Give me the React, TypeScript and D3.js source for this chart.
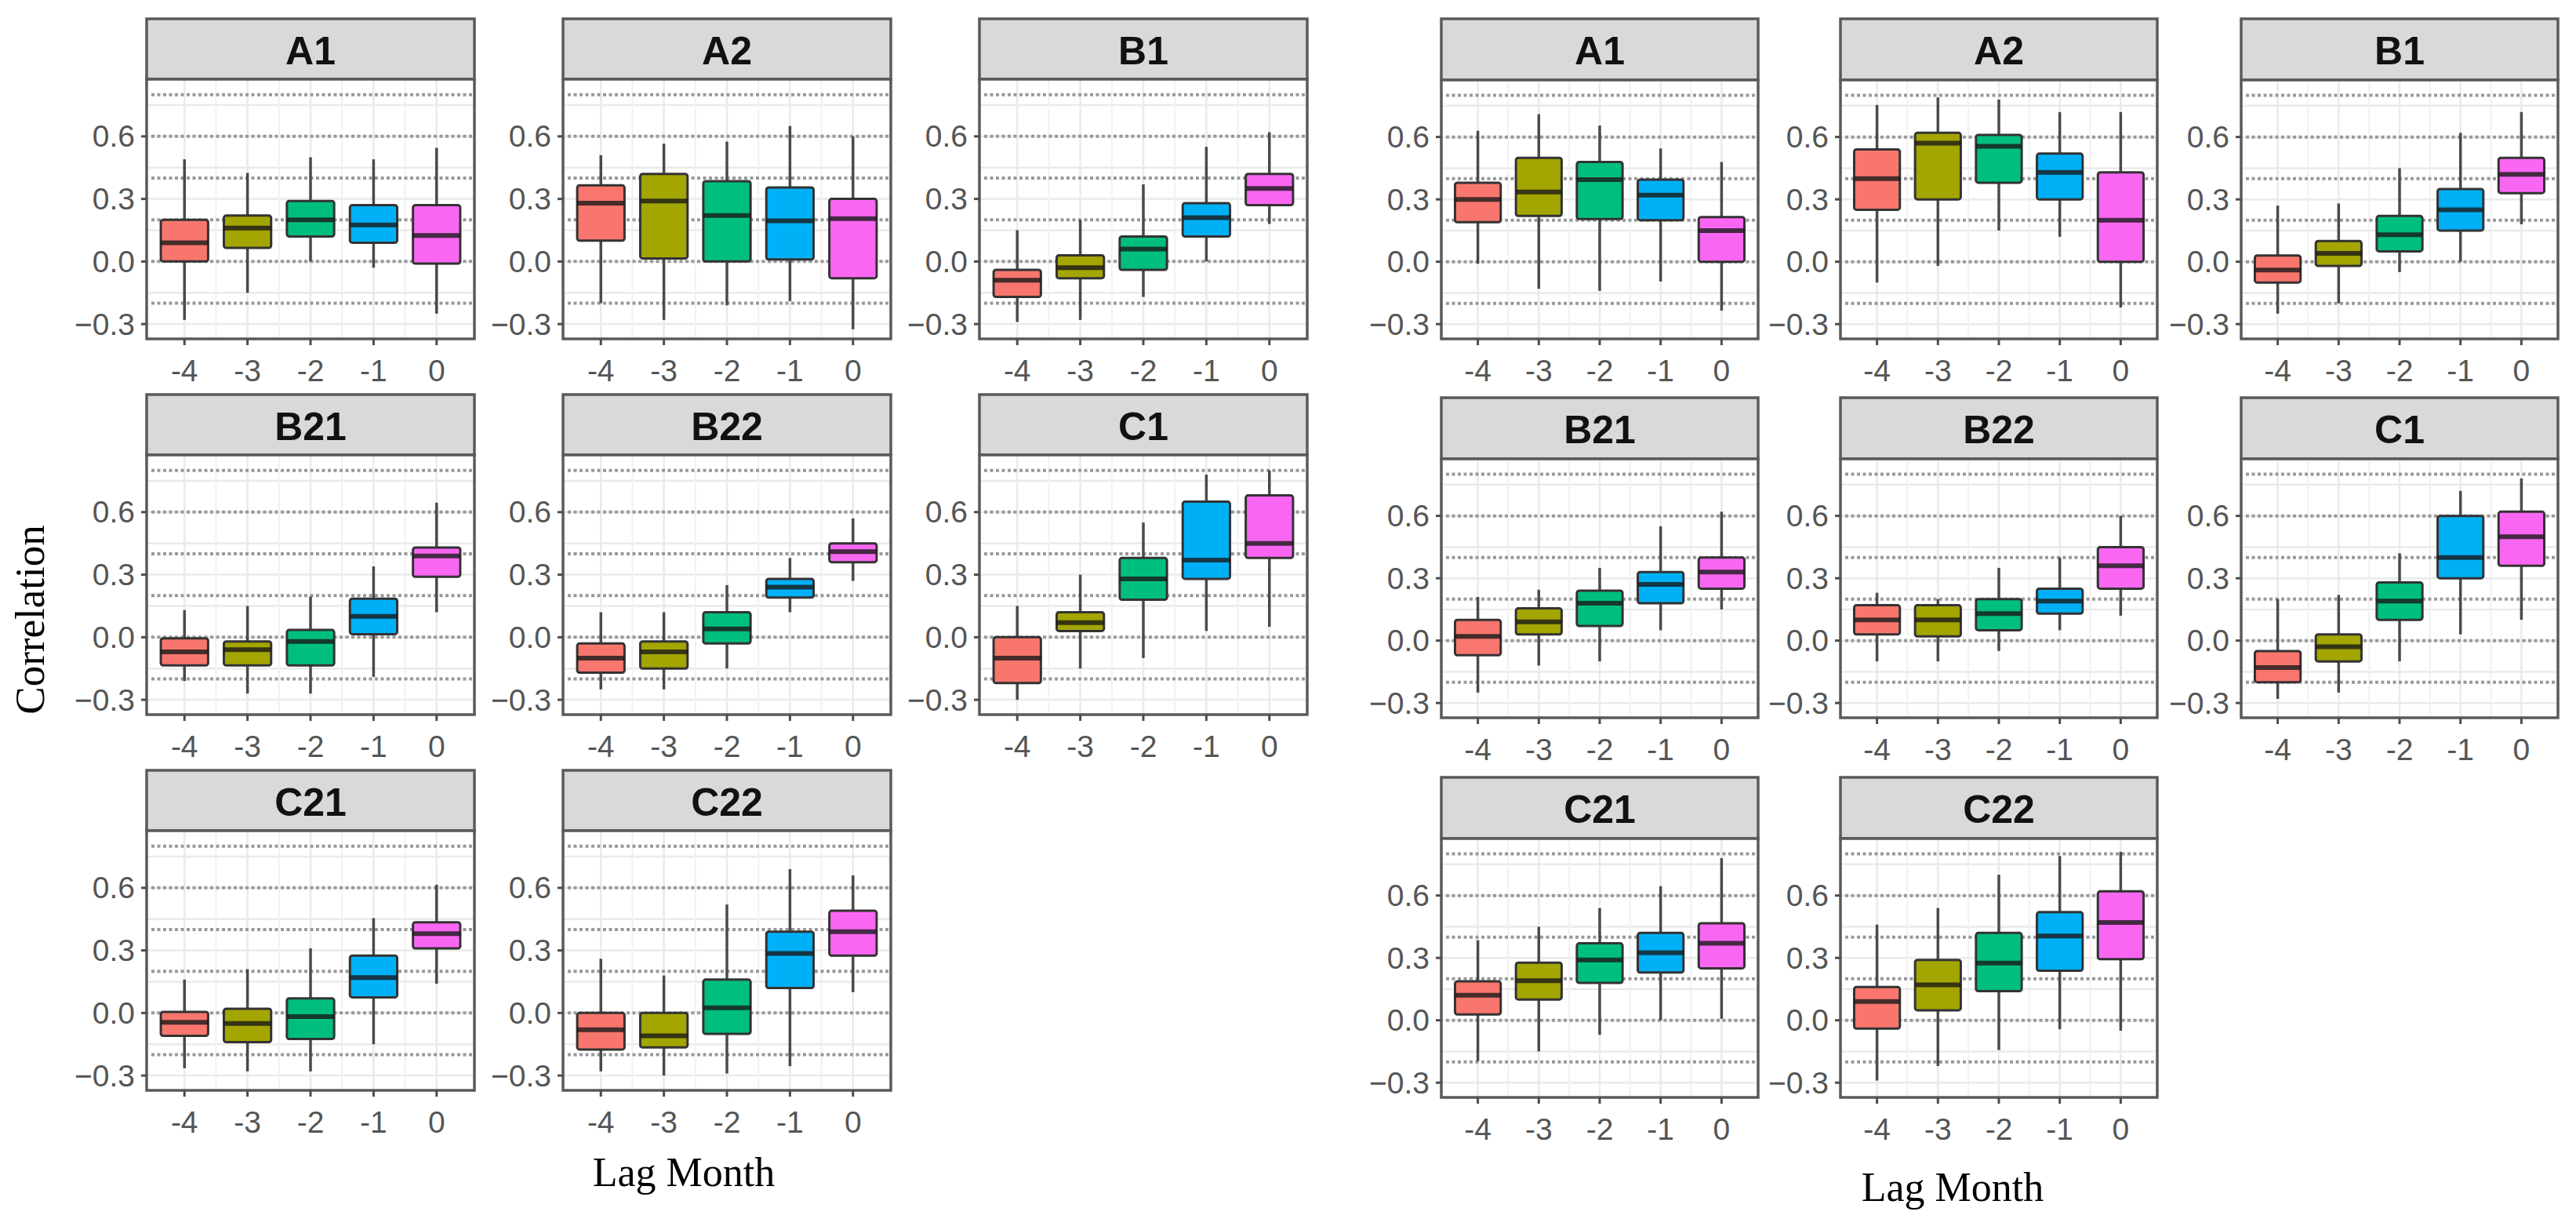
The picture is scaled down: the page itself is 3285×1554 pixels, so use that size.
import React from "react";
import * as d3 from "d3";

// ---------- data ----------
const lags = ["-4", "-3", "-2", "-1", "0"];
const yTicks = [0.6, 0.3, 0.0, -0.3];
const yMinor = [0.75, 0.45, 0.15, -0.15];
const dottedLevels = [-0.2, 0, 0.2, 0.4, 0.6, 0.8];
const lagColors = ["#F8766D", "#A3A500", "#00BF7D", "#00B0F6", "#F967F2"];
const panelNames = ["A1", "A2", "B1", "B21", "B22", "C1", "C21", "C22"];

// each box: [lower whisker, Q1, median, Q3, upper whisker]
const leftA1 = [[-0.28, 0.0, 0.09, 0.2, 0.49], [-0.15, 0.065, 0.16, 0.22, 0.425], [0.0, 0.12, 0.2, 0.29, 0.5], [-0.03, 0.09, 0.175, 0.27, 0.49], [-0.25, -0.01, 0.125, 0.27, 0.545]];
const leftA2 = [[-0.2, 0.1, 0.28, 0.365, 0.51], [-0.28, 0.015, 0.29, 0.42, 0.565], [-0.21, 0.0, 0.22, 0.385, 0.575], [-0.19, 0.01, 0.195, 0.355, 0.65], [-0.325, -0.08, 0.205, 0.3, 0.6]];
const leftB1 = [[-0.29, -0.17, -0.09, -0.04, 0.15], [-0.28, -0.08, -0.03, 0.03, 0.2], [-0.17, -0.04, 0.06, 0.12, 0.37], [0.0, 0.12, 0.21, 0.28, 0.55], [0.18, 0.27, 0.35, 0.42, 0.62]];
const leftB21 = [[-0.21, -0.135, -0.07, -0.005, 0.13], [-0.27, -0.135, -0.06, -0.02, 0.15], [-0.27, -0.135, -0.02, 0.035, 0.195], [-0.19, 0.015, 0.1, 0.185, 0.34], [0.12, 0.29, 0.39, 0.43, 0.645]];
const leftB22 = [[-0.25, -0.17, -0.1, -0.03, 0.12], [-0.25, -0.15, -0.07, -0.02, 0.12], [-0.15, -0.03, 0.04, 0.12, 0.25], [0.12, 0.19, 0.24, 0.28, 0.38], [0.27, 0.36, 0.41, 0.45, 0.57]];
const leftC1 = [[-0.3, -0.22, -0.1, 0.0, 0.15], [-0.15, 0.03, 0.07, 0.12, 0.3], [-0.1, 0.18, 0.28, 0.38, 0.55], [0.03, 0.28, 0.37, 0.65, 0.78], [0.05, 0.38, 0.45, 0.68, 0.8]];
const leftC21 = [[-0.265, -0.11, -0.045, 0.005, 0.16], [-0.28, -0.14, -0.05, 0.02, 0.21], [-0.28, -0.125, -0.017, 0.07, 0.31], [-0.15, 0.075, 0.17, 0.275, 0.455], [0.14, 0.31, 0.38, 0.435, 0.615]];
const leftC22 = [[-0.28, -0.175, -0.08, 0.0, 0.26], [-0.3, -0.165, -0.11, 0.0, 0.18], [-0.29, -0.1, 0.025, 0.16, 0.52], [-0.255, 0.12, 0.285, 0.39, 0.69], [0.1, 0.275, 0.39, 0.49, 0.66]];

const rightA1 = [[-0.01, 0.19, 0.3, 0.38, 0.63], [-0.13, 0.22, 0.335, 0.5, 0.71], [-0.14, 0.205, 0.395, 0.48, 0.655], [-0.095, 0.2, 0.32, 0.395, 0.545], [-0.235, 0.0, 0.15, 0.215, 0.48]];
const rightA2 = [[-0.1, 0.25, 0.4, 0.54, 0.754], [-0.02, 0.3, 0.57, 0.62, 0.79], [0.15, 0.38, 0.555, 0.61, 0.78], [0.12, 0.3, 0.43, 0.52, 0.72], [-0.22, 0.0, 0.2, 0.43, 0.72]];
const rightB1 = [[-0.25, -0.1, -0.04, 0.03, 0.27], [-0.2, -0.02, 0.04, 0.1, 0.28], [-0.05, 0.05, 0.13, 0.22, 0.45], [0.0, 0.15, 0.25, 0.35, 0.62], [0.18, 0.33, 0.42, 0.5, 0.72]];
const rightB21 = [[-0.25, -0.07, 0.02, 0.1, 0.21], [-0.12, 0.03, 0.09, 0.155, 0.245], [-0.1, 0.07, 0.18, 0.24, 0.35], [0.05, 0.18, 0.27, 0.33, 0.55], [0.15, 0.25, 0.33, 0.4, 0.62]];
const rightB22 = [[-0.1, 0.03, 0.1, 0.17, 0.23], [-0.1, 0.02, 0.1, 0.17, 0.2], [-0.05, 0.05, 0.13, 0.2, 0.35], [0.05, 0.13, 0.19, 0.25, 0.4], [0.12, 0.25, 0.36, 0.45, 0.6]];
const rightC1 = [[-0.28, -0.2, -0.13, -0.05, 0.2], [-0.25, -0.1, -0.03, 0.03, 0.22], [-0.1, 0.1, 0.19, 0.28, 0.42], [0.03, 0.3, 0.4, 0.6, 0.72], [0.1, 0.36, 0.5, 0.62, 0.78]];
const rightC21 = [[-0.197, 0.028, 0.12, 0.187, 0.385], [-0.15, 0.1, 0.19, 0.277, 0.45], [-0.07, 0.18, 0.29, 0.37, 0.54], [0.0, 0.23, 0.325, 0.42, 0.645], [0.007, 0.25, 0.37, 0.467, 0.78]];
const rightC22 = [[-0.29, -0.04, 0.09, 0.16, 0.46], [-0.22, 0.048, 0.17, 0.29, 0.54], [-0.143, 0.14, 0.275, 0.42, 0.7], [-0.043, 0.238, 0.405, 0.52, 0.79], [-0.05, 0.294, 0.47, 0.62, 0.81]];

const leftPanels = [leftA1, leftA2, leftB1, leftB21, leftB22, leftC1, leftC21, leftC22];
const rightPanels = [rightA1, rightA2, rightB1, rightB21, rightB22, rightC1, rightC21, rightC22];

// ---------- layout ----------
const W = 3285;
const H = 1554;
const Y_DOMAIN = [-0.371, 0.874];

const groups = [
  {
    key: "left",
    data: leftPanels,
    colX: [187, 718, 1249],
    panelW: 418,
    rowTop: [24, 503, 982],
    stripH: 77,
    panelH: 331,
    xLabel: { x: 872, y: 1494 },
    yLabel: { x: 38, y: 790 },
  },
  {
    key: "right",
    data: rightPanels,
    colX: [1838, 2347, 2858],
    panelW: 404,
    rowTop: [24, 507, 991],
    stripH: 78,
    panelH: 330,
    xLabel: { x: 2490, y: 1513 },
    yLabel: null,
  },
];

const AX_FONT = "'Liberation Sans', Arial, sans-serif";
const SERIF = "'Liberation Serif', 'Times New Roman', serif";

function Panel({ name, boxes, x0, top, w, stripH, panelH }) {
  const pTop = top + stripH;
  const pBot = pTop + panelH;
  const y = d3.scaleLinear().domain(Y_DOMAIN).range([pBot, pTop]);
  const x = d3.scalePoint().domain(lags).range([x0, x0 + w]).padding(0.6);
  const step = x.step();
  const bw = step * 0.75;
  const minorX = lags.slice(0, -1).map((l) => x(l) + step / 2);

  return (
    <g>
      {/* strip */}
      <rect x={x0} y={top} width={w} height={stripH} fill="#D9D9D9" stroke="#5a5a5a" strokeWidth={3.5} />
      <text
        x={x0 + w / 2}
        y={top + stripH / 2 + 2}
        textAnchor="middle"
        dominantBaseline="central"
        fontFamily={AX_FONT}
        fontWeight="bold"
        fontSize={50}
        fill="#111"
      >
        {name}
      </text>
      {/* panel bg */}
      <rect x={x0} y={pTop} width={w} height={panelH} fill="#ffffff" />
      {/* faint grid */}
      {yMinor.concat(yTicks).map((v) => (
        <line key={"gy" + v} x1={x0} x2={x0 + w} y1={y(v)} y2={y(v)} stroke="#EAEAEA" strokeWidth={2.5} />
      ))}
      {lags.map((l) => (
        <line key={"gx" + l} x1={x(l)} x2={x(l)} y1={pTop} y2={pBot} stroke="#EAEAEA" strokeWidth={2.5} />
      ))}
      {minorX.map((mx, i) => (
        <line key={"gmx" + i} x1={mx} x2={mx} y1={pTop} y2={pBot} stroke="#F1F1F1" strokeWidth={2} />
      ))}
      {/* dotted reference lines */}
      {dottedLevels.map((v) => (
        <line
          key={"d" + v}
          x1={x0 + 6}
          x2={x0 + w}
          y1={y(v)}
          y2={y(v)}
          stroke="#999999"
          strokeWidth={4}
          strokeDasharray="4 3.5"
        />
      ))}
      {/* boxes */}
      {boxes.map((b, i) => {
        const cx = x(lags[i]);
        const [lo, q1, med, q3, hi] = b;
        return (
          <g key={"b" + i}>
            <line x1={cx} x2={cx} y1={y(hi)} y2={y(q3)} stroke="#4a4a4a" strokeWidth={3.5} />
            <line x1={cx} x2={cx} y1={y(q1)} y2={y(lo)} stroke="#4a4a4a" strokeWidth={3.5} />
            <rect
              x={cx - bw / 2}
              y={y(q3)}
              width={bw}
              height={y(q1) - y(q3)}
              fill={lagColors[i]}
              stroke="#333333"
              strokeWidth={3}
              rx={3}
            />
            <line x1={cx - bw / 2} x2={cx + bw / 2} y1={y(med)} y2={y(med)} stroke="#1a1a1a" strokeWidth={6} opacity={0.8} />
          </g>
        );
      })}
      {/* panel border */}
      <rect x={x0} y={pTop} width={w} height={panelH} fill="none" stroke="#5a5a5a" strokeWidth={3.5} />
      {/* y axis ticks & labels */}
      {yTicks.map((v) => (
        <g key={"yt" + v}>
          <line x1={x0 - 7} x2={x0} y1={y(v)} y2={y(v)} stroke="#4d4d4d" strokeWidth={3} />
          <text
            x={x0 - 15}
            y={y(v)}
            textAnchor="end"
            dominantBaseline="central"
            fontFamily={AX_FONT}
            fontSize={39}
            fill="#555555"
          >
            {d3.format(".1f")(v)}
          </text>
        </g>
      ))}
      {/* x axis ticks & labels */}
      {lags.map((l) => (
        <g key={"xt" + l}>
          <line x1={x(l)} x2={x(l)} y1={pBot} y2={pBot + 8} stroke="#4d4d4d" strokeWidth={3} />
          <text
            x={x(l)}
            y={pBot + 40}
            textAnchor="middle"
            dominantBaseline="central"
            fontFamily={AX_FONT}
            fontSize={39}
            fill="#555555"
          >
            {l}
          </text>
        </g>
      ))}
    </g>
  );
}

export default function App() {
  return (
    <svg
      width={W}
      height={H}
      viewBox={`0 0 ${W} ${H}`}
      style={{ position: "absolute", left: 0, top: 0, background: "#ffffff" }}
    >
      <rect x={0} y={0} width={W} height={H} fill="#ffffff" />
      {groups.map((g) => (
        <g key={g.key}>
          {g.data.map((boxes, idx) => {
            const row = Math.floor(idx / 3);
            const col = idx % 3;
            return (
              <Panel
                key={panelNames[idx]}
                name={panelNames[idx]}
                boxes={boxes}
                x0={g.colX[col]}
                top={g.rowTop[row]}
                w={g.panelW}
                stripH={g.stripH}
                panelH={g.panelH}
              />
            );
          })}
          <text
            x={g.xLabel.x}
            y={g.xLabel.y}
            textAnchor="middle"
            dominantBaseline="central"
            fontFamily={SERIF}
            fontSize={52}
            fill="#000"
          >
            Lag Month
          </text>
          {g.yLabel && (
            <text
              transform={`translate(${g.yLabel.x},${g.yLabel.y}) rotate(-90)`}
              textAnchor="middle"
              dominantBaseline="central"
              fontFamily={SERIF}
              fontSize={53}
              fill="#000"
            >
              Correlation
            </text>
          )}
        </g>
      ))}
    </svg>
  );
}
